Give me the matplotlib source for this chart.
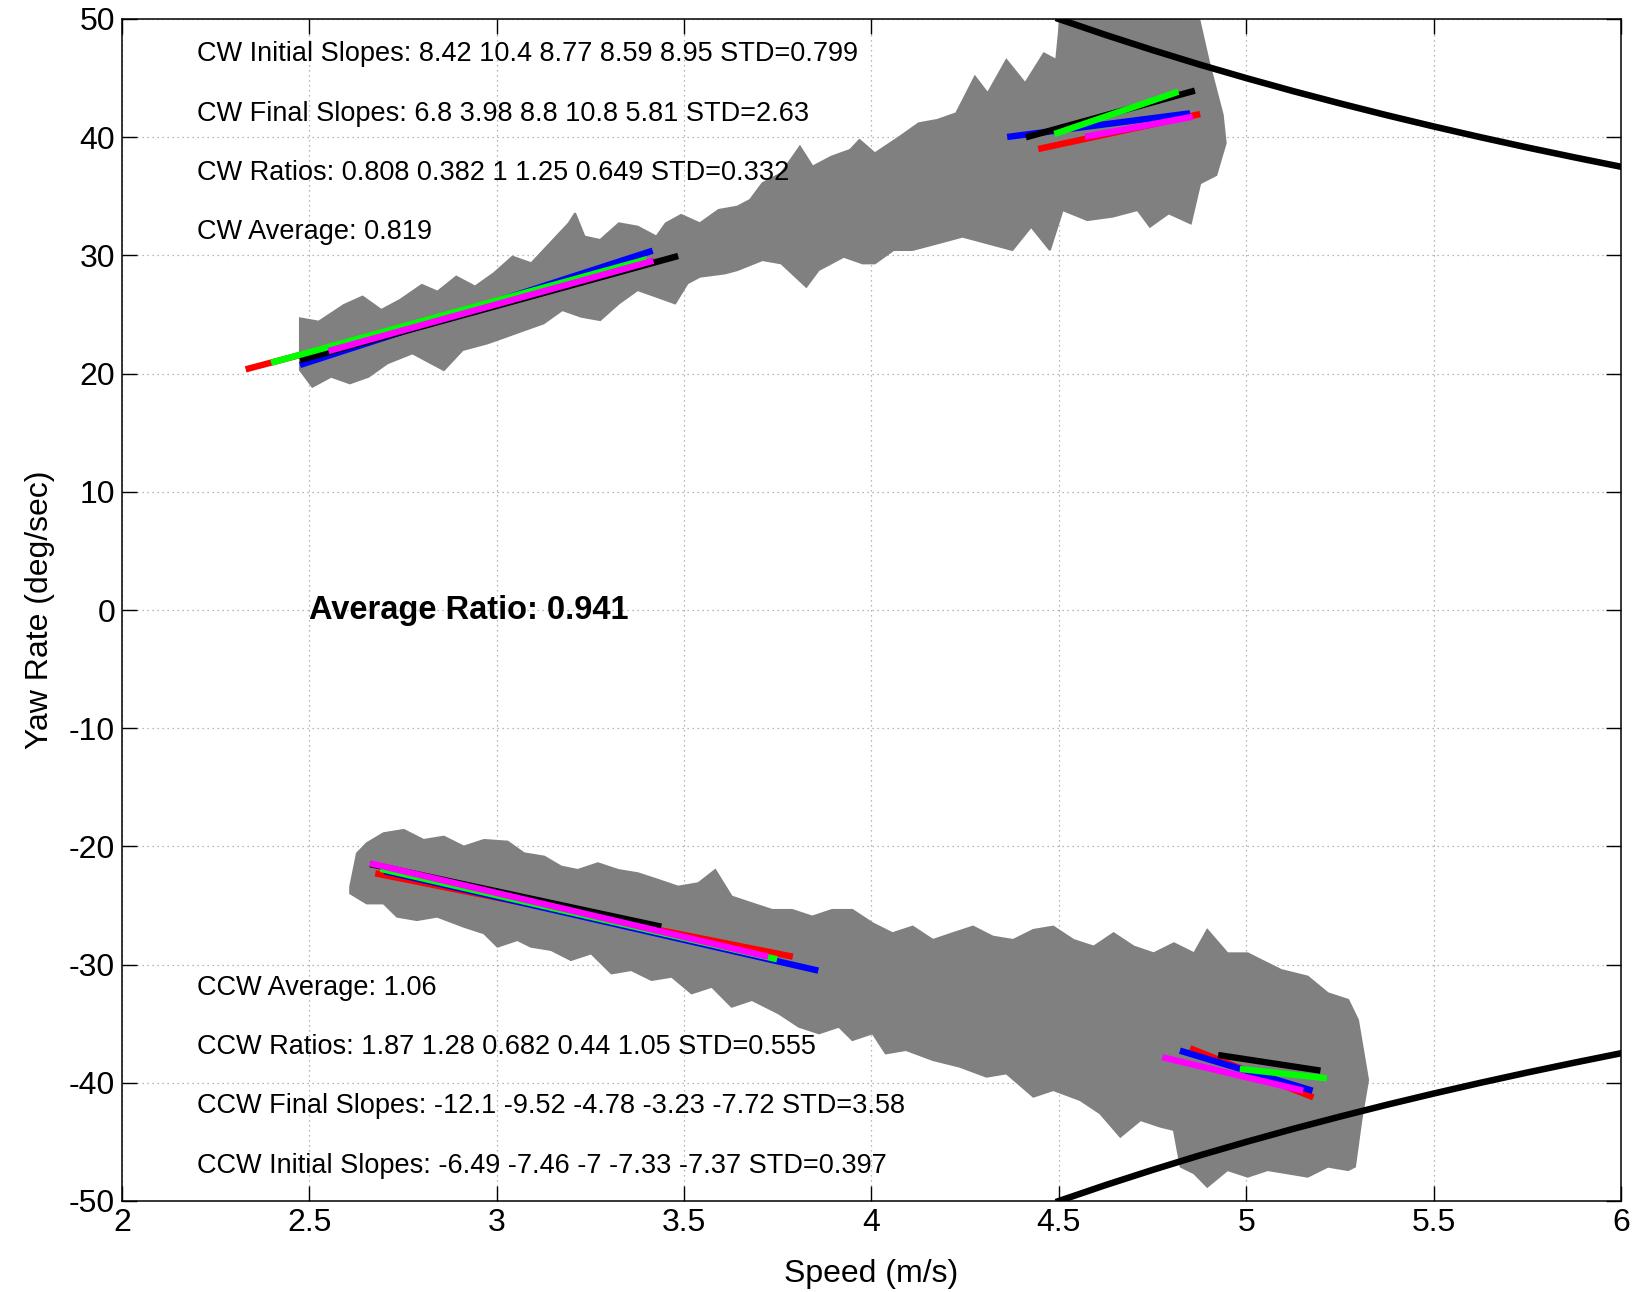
import matplotlib
matplotlib.use("Agg")
import matplotlib.pyplot as plt

plt.rcParams['font.family'] = ['Liberation Sans', 'DejaVu Sans']
plt.rcParams['axes.unicode_minus'] = False

# ---- data ----
# gray trace envelopes (CW, upper band)
cw_upper_x = [2.475, 2.525, 2.592, 2.642, 2.692, 2.742, 2.800, 2.842, 2.892, 2.942, 2.992, 3.042,
              3.092, 3.142, 3.192, 3.209, 3.234, 3.276, 3.326, 3.376, 3.426, 3.451, 3.492, 3.542,
              3.592, 3.642, 3.676, 3.709, 3.759, 3.809, 3.843, 3.893, 3.943, 3.968, 4.009, 4.076,
              4.126, 4.176, 4.226, 4.276, 4.310, 4.360, 4.410, 4.460, 4.493, 4.510, 4.860, 4.900,
              4.937, 4.945]
cw_upper_y = [24.67, 24.39, 25.80, 26.51, 25.38, 26.23, 27.50, 26.93, 28.20, 27.36, 28.48, 29.89,
              29.33, 31.02, 32.71, 33.56, 31.59, 31.30, 32.71, 32.43, 31.59, 32.71, 33.42, 32.71,
              33.84, 34.12, 34.69, 36.10, 36.94, 39.20, 37.51, 38.35, 38.92, 39.76, 38.63, 40.05,
              41.17, 41.46, 42.02, 45.12, 43.71, 46.53, 44.56, 47.09, 46.53, 52.0, 52.0, 46.4,
              41.9, 39.5]
cw_lower_x = [2.475, 2.508, 2.558, 2.608, 2.658, 2.708, 2.775, 2.825, 2.859, 2.909, 2.975, 3.025,
              3.075, 3.125, 3.175, 3.225, 3.276, 3.326, 3.376, 3.426, 3.476, 3.509, 3.542, 3.609,
              3.642, 3.709, 3.759, 3.826, 3.859, 3.926, 3.976, 4.009, 4.059, 4.109, 4.176, 4.243,
              4.310, 4.376, 4.426, 4.476, 4.510, 4.576, 4.643, 4.710, 4.743, 4.793, 4.852, 4.877,
              4.920, 4.945]
cw_lower_y = [20.30, 18.89, 19.74, 19.18, 19.74, 20.87, 21.72, 20.87, 20.30, 22.00, 22.56, 23.12,
              23.69, 24.25, 25.38, 24.82, 24.53, 25.94, 27.07, 26.51, 25.94, 27.64, 28.20, 28.48,
              28.76, 29.61, 29.33, 27.35, 28.76, 29.89, 29.33, 29.33, 30.46, 30.46, 31.02, 31.59,
              31.02, 30.46, 32.43, 30.46, 33.84, 32.99, 33.28, 33.84, 32.43, 33.56, 32.71, 36.10,
              36.8, 39.5]

# gray trace envelopes (CCW, lower band)
ccw_upper_x = [2.609, 2.627, 2.653, 2.698, 2.752, 2.805, 2.859, 2.912, 2.966, 3.029, 3.073, 3.127,
               3.172, 3.216, 3.270, 3.324, 3.377, 3.431, 3.484, 3.538, 3.583, 3.627, 3.681, 3.735,
               3.788, 3.842, 3.895, 3.949, 4.003, 4.056, 4.110, 4.164, 4.217, 4.271, 4.324, 4.378,
               4.432, 4.485, 4.539, 4.593, 4.646, 4.700, 4.753, 4.807, 4.861, 4.896, 4.950, 5.004,
               5.039, 5.093, 5.164, 5.218, 5.272, 5.298, 5.325]
ccw_upper_y = [-23.41, -20.59, -19.74, -18.89, -18.61, -19.46, -19.18, -20.02, -19.46, -19.60, -20.59, -20.87,
               -21.71, -22.00, -21.43, -22.00, -22.28, -22.84, -23.41, -23.12, -22.00, -24.25, -24.82, -25.38,
               -25.38, -25.94, -25.38, -25.38, -26.51, -27.35, -26.79, -27.92, -27.35, -26.79, -27.64, -27.92,
               -27.07, -26.79, -27.92, -28.48, -27.35, -28.48, -29.05, -28.20, -29.05, -27.07, -29.05, -29.05,
               -29.61, -30.46, -31.02, -32.43, -32.99, -34.69, -39.76]
ccw_lower_x = [2.609, 2.653, 2.698, 2.734, 2.787, 2.841, 2.912, 2.966, 3.002, 3.055, 3.091, 3.145,
               3.198, 3.252, 3.306, 3.359, 3.413, 3.467, 3.520, 3.574, 3.627, 3.681, 3.752, 3.806,
               3.860, 3.913, 3.949, 4.003, 4.038, 4.092, 4.164, 4.235, 4.307, 4.360, 4.432, 4.485,
               4.557, 4.610, 4.664, 4.718, 4.771, 4.807, 4.825, 4.861, 4.896, 4.950, 5.004, 5.057,
               5.111, 5.164, 5.218, 5.272, 5.290, 5.307, 5.325]
ccw_lower_y = [-23.97, -24.82, -24.82, -25.94, -26.23, -25.94, -26.79, -27.35, -28.48, -27.92, -28.48, -28.76,
               -29.61, -29.05, -30.74, -30.46, -31.30, -31.02, -32.43, -31.87, -33.56, -32.99, -34.12, -35.25,
               -35.81, -35.25, -36.38, -35.81, -37.51, -37.22, -38.07, -38.63, -39.48, -39.20, -41.17, -40.61,
               -41.46, -42.58, -44.56, -43.15, -43.71, -43.99, -47.09, -47.66, -48.79, -47.38, -47.94, -47.38,
               -47.66, -47.94, -47.09, -47.38, -47.09, -43.15, -39.76]

# limit curves (black)
limit_speed = [4.5, 4.625, 4.75, 4.875, 5.0, 5.125, 5.25, 5.375, 5.5, 5.625, 5.75, 5.875, 6.0]
limit_yaw = [50.0, 48.65, 47.37, 46.15, 45.0, 43.9, 42.86, 41.86, 40.91, 40.0, 39.13, 38.3, 37.5]

# fitted slope segments: colours r, g, b, k, m  -> (x0, y0, x1, y1)
fit_colors = ['#ff0000', '#00ff00', '#0000ff', '#000000', '#ff00ff']
cw_init_x0 = [2.330, 2.398, 2.475, 2.475, 2.551]
cw_init_y0 = [20.36, 20.92, 20.73, 21.15, 21.91]
cw_init_x1 = [3.420, 3.400, 3.416, 3.484, 3.418]
cw_init_y1 = [29.50, 29.67, 30.40, 29.95, 29.55]

cw_final_x0 = [4.445, 4.488, 4.362, 4.412, 4.570]
cw_final_y0 = [39.00, 40.27, 40.02, 39.99, 40.04]
cw_final_x1 = [4.877, 4.819, 4.850, 4.863, 4.857]
cw_final_y1 = [41.96, 43.85, 42.02, 43.94, 41.73]

ccw_init_x0 = [2.676, 2.690, 2.700, 2.662, 2.662]
ccw_init_y0 = [-22.28, -21.90, -22.10, -21.50, -21.43]
ccw_init_x1 = [3.790, 3.748, 3.858, 3.439, 3.724]
ccw_init_y1 = [-29.33, -29.55, -30.51, -26.79, -29.33]

ccw_final_x0 = [4.850, 4.983, 4.823, 4.925, 4.776]
ccw_final_y0 = [-37.08, -38.83, -37.28, -37.65, -37.84]
ccw_final_x1 = [5.179, 5.215, 5.177, 5.198, 5.152]
ccw_final_y1 = [-41.23, -39.62, -40.67, -38.97, -40.67]

cw_texts = ["CW Initial Slopes: 8.42 10.4 8.77 8.59 8.95 STD=0.799",
            "CW Final Slopes: 6.8 3.98 8.8 10.8 5.81 STD=2.63",
            "CW Ratios: 0.808 0.382 1 1.25 0.649 STD=0.332",
            "CW Average: 0.819"]
cw_text_y = [47, 42, 37, 32]
ccw_texts = ["CCW Average: 1.06",
             "CCW Ratios: 1.87 1.28 0.682 0.44 1.05 STD=0.555",
             "CCW Final Slopes: -12.1 -9.52 -4.78 -3.23 -7.72 STD=3.58",
             "CCW Initial Slopes: -6.49 -7.46 -7 -7.33 -7.37 STD=0.397"]
ccw_text_y = [-32, -37, -42, -47]
avg_text = "Average Ratio: 0.941"

xticks = [2, 2.5, 3, 3.5, 4, 4.5, 5, 5.5, 6]
xticklabels = ['2', '2.5', '3', '3.5', '4', '4.5', '5', '5.5', '6']
yticks = [-50, -40, -30, -20, -10, 0, 10, 20, 30, 40, 50]

# ---- figure ----
fig = plt.figure(figsize=(16.4, 12.92), dpi=100)
ax = fig.add_axes([122/1640, 1 - 1201/1292, 1499/1640, 1182/1292])
ax.set_xlim(2, 6)
ax.set_ylim(-50, 50)

gray = '#808080'
for ux, uy, lx, ly in [(cw_upper_x, cw_upper_y, cw_lower_x, cw_lower_y),
                       (ccw_upper_x, ccw_upper_y, ccw_lower_x, ccw_lower_y)]:
    px = list(ux) + list(lx)[::-1]
    py = list(uy) + list(ly)[::-1]
    ax.fill(px, py, color=gray, lw=1.5, ec=gray, zorder=2)

# fit segments: draw order r, b, k, g, m
order = [0, 2, 3, 1, 4]
for x0, y0, x1, y1 in [(cw_init_x0, cw_init_y0, cw_init_x1, cw_init_y1),
                       (cw_final_x0, cw_final_y0, cw_final_x1, cw_final_y1),
                       (ccw_init_x0, ccw_init_y0, ccw_init_x1, ccw_init_y1),
                       (ccw_final_x0, ccw_final_y0, ccw_final_x1, ccw_final_y1)]:
    for i in order:
        ax.plot([x0[i], x1[i]], [y0[i], y1[i]], color=fit_colors[i], lw=4.6,
                solid_capstyle='butt', zorder=3)

ax.plot(limit_speed, limit_yaw, color='k', lw=4.7, zorder=4)
ax.plot(limit_speed, [-v for v in limit_yaw], color='k', lw=4.7, zorder=4)

for t, y in zip(cw_texts, cw_text_y):
    ax.text(2.2, y, t, fontsize=19.5, va='center', ha='left', zorder=5)
for t, y in zip(ccw_texts, ccw_text_y):
    ax.text(2.2, y, t, fontsize=19.5, va='center', ha='left', zorder=5)
ax.text(2.5, 0, avg_text, fontsize=23.5, fontweight='bold', va='center', ha='left', zorder=5)

ax.set_xticks(xticks)
ax.set_xticklabels(xticklabels)
ax.set_yticks(yticks)
ax.tick_params(direction='in', length=11, width=1.0, top=True, right=True,
               labelsize=23, pad=5)
ax.grid(True, linestyle=(0, (1, 3)), color='#a0a0a0', lw=0.9, zorder=0)
ax.set_axisbelow(True)
for s in ax.spines.values():
    s.set_linewidth(1.1)

ax.set_xlabel('Speed (m/s)', fontsize=23, labelpad=15)
ax.set_ylabel('Yaw Rate (deg/sec)', fontsize=23, labelpad=10)

fig.savefig('out.png', dpi=100)
